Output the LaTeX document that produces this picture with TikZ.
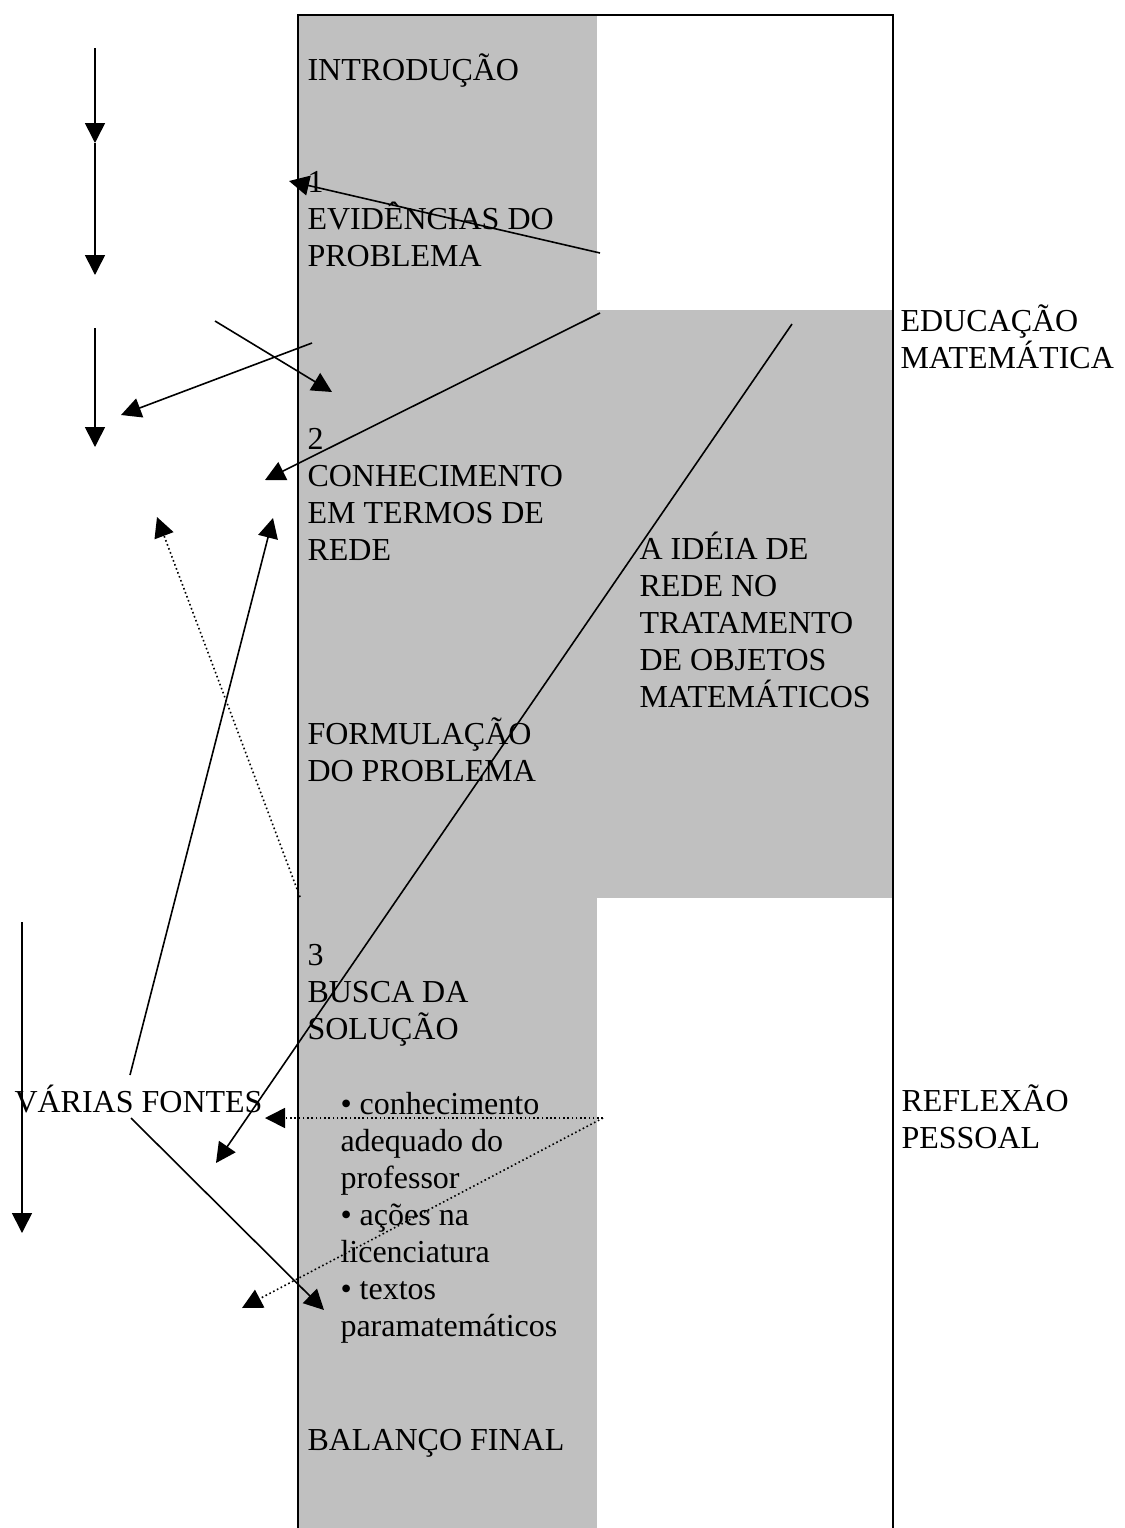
\documentclass[tikz,border=0pt]{standalone}
\usepackage{fontspec}
\setmainfont{Liberation Serif}
\usetikzlibrary{arrows.meta}
\definecolor{cinza}{RGB}{192,192,192}
\tikzset{
  seta/.style={-{Triangle[length=7.5pt,width=7.5pt]}, line width=0.6pt},
  pontilhada/.style={seta, densely dotted},
  texto/.style={anchor=base west, inner sep=0pt, align=left,
    font=\fontsize{12}{13.875}\selectfont},
}
\begin{document}
\begin{tikzpicture}[x=0.375pt,y=-0.375pt]
    \useasboundingbox (0,0) rectangle (1124,1528);

    % fundo cinza
    \fill[cinza] (298,15) rectangle (597,1528);
    \fill[cinza] (597,310) rectangle (893,898);
    \draw[line width=0.75pt] (298,1532) -- (298,15) -- (893,15) -- (893,1532);

    % coluna central (ancorada na linha de base da ultima linha)
    \node[texto] (intro) at (307,80) {INTRODUÇÃO};
    \node[texto] (evid) at (307,266) {1\\EVIDÊNCIAS DO\\PROBLEMA};
    \node[texto] (conhec) at (307,560) {2\\CONHECIMENTO\\EM TERMOS DE\\REDE};
    \node[texto] (formul) at (307,781) {FORMULAÇÃO\\DO PROBLEMA};
    \node[texto] (busca) at (307,1039) {3\\BUSCA DA\\SOLUÇÃO};
    \node[texto] (lista) at (340,1336) {• conhecimento\\adequado do\\professor\\• ações na\\licenciatura\\• textos\\paramatemáticos};
    \node[texto] (balanco) at (307,1450) {BALANÇO FINAL};

    % bloco da direita
    \node[texto] (ideia) at (639,707) {A IDÉIA DE\\REDE NO\\TRATAMENTO\\DE OBJETOS\\MATEMÁTICOS};
    \node[texto] (educ) at (900,368) {EDUCAÇÃO\\MATEMÁTICA};
    \node[texto] (reflex) at (901,1148) {REFLEXÃO\\PESSOAL};

    % lado esquerdo
    \node[texto] (fontes) at (14,1112) {VÁRIAS FONTES};

    % pontas das setas
    \coordinate (v0) at (95,48);
    \coordinate (v1) at (95,143);
    \coordinate (v2) at (95,275);
    \coordinate (w0) at (95,328);
    \coordinate (w1) at (95,447);
    \coordinate (z0) at (22,922);
    \coordinate (z1) at (22,1233);
    \coordinate (e0) at (600,253);
    \coordinate (e1) at (289,181);
    \coordinate (x0) at (215,321);
    \coordinate (x1) at (332,392);
    \coordinate (y0) at (312,343);
    \coordinate (y1) at (121,415);
    \coordinate (m0) at (600,313);
    \coordinate (m1) at (265,480);
    \coordinate (r0) at (792,324);
    \coordinate (r1) at (216,1163);
    \coordinate (f0) at (130,1075);
    \coordinate (f1) at (273,518);
    \coordinate (d0) at (300,897);
    \coordinate (d1) at (157,517);
    \coordinate (g0) at (131,1118);
    \coordinate (g1) at (324,1310);
    \coordinate (h0) at (603,1118);
    \coordinate (h1) at (265,1118);
    \coordinate (h2) at (242,1308);

    % setas verticais
    \draw[seta] (v0) -- (v1);
    \draw[seta] (v1) -- (v2);
    \draw[seta] (w0) -- (w1);
    \draw[seta] (z0) -- (z1);

    % setas soltas
    \draw[seta] (e0) -- (e1);
    \draw[seta] (x0) -- (x1);
    \draw[seta] (y0) -- (y1);
    \draw[seta] (m0) -- (m1);
    \draw[seta] (r0) -- (r1);
    \draw[seta] (f0) -- (f1);
    \draw[seta] (g0) -- (g1);
    \draw[pontilhada] (d0) -- (d1);
    \draw[pontilhada] (h0) -- (h1);
    \draw[pontilhada] (h0) -- (h2);
\end{tikzpicture}
\end{document}
